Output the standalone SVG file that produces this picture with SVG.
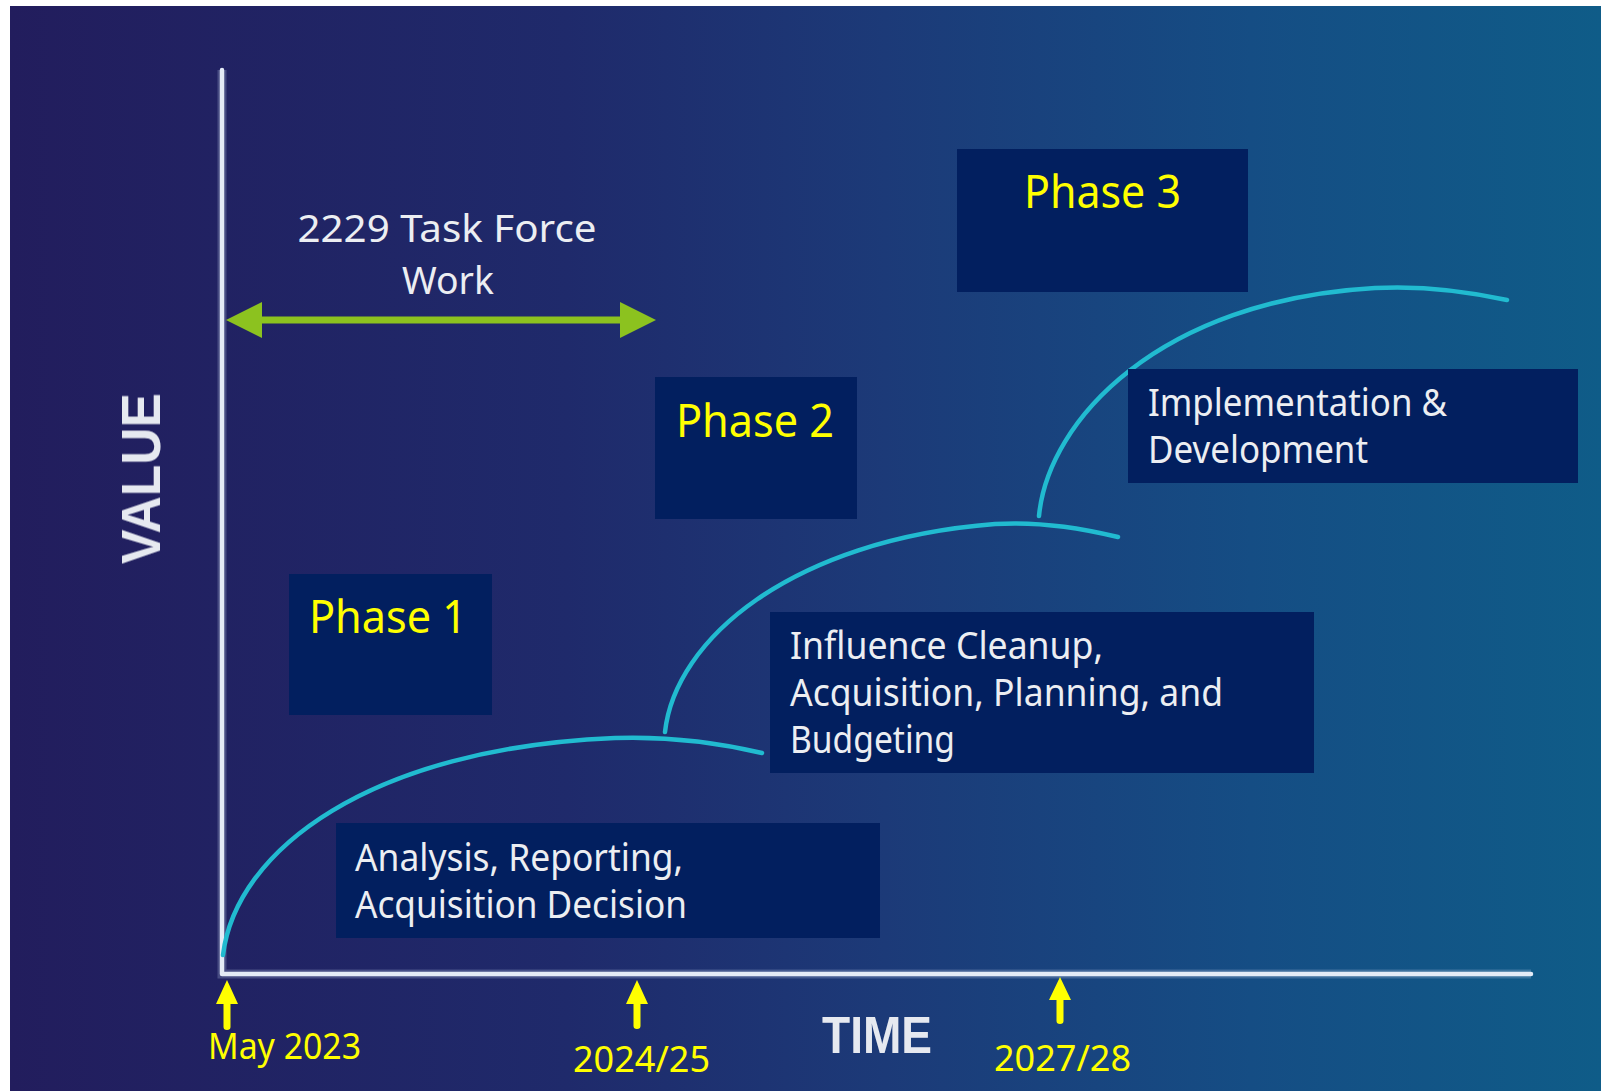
<svg xmlns="http://www.w3.org/2000/svg" width="1601" height="1091" viewBox="0 0 1601 1091">
  <defs>
    <linearGradient id="bg" x1="0" y1="0" x2="1" y2="0">
      <stop offset="0" stop-color="#221d5d"/>
      <stop offset="0.35" stop-color="#1f2a6b"/>
      <stop offset="0.55" stop-color="#1c3a78"/>
      <stop offset="0.78" stop-color="#154d84"/>
      <stop offset="1" stop-color="#0f5c88"/>
    </linearGradient>
    <filter id="soft" x="-5%" y="-5%" width="110%" height="110%">
      <feGaussianBlur stdDeviation="0.6"/>
    </filter>
    <marker id="greenHead" viewBox="0 0 36 36" refX="2" refY="18" markerWidth="36" markerHeight="36" markerUnits="userSpaceOnUse" orient="auto-start-reverse">
      <path d="M0,0 L36,18 L0,36 Z" fill="#8cc21f"/>
    </marker>
  </defs>
  <style>
    .box { fill: #021f5f; }
    .phase { font-family: "Noto Sans", "DejaVu Sans", sans-serif; font-size: 45px; fill: #ffff00; }
    .body { font-family: "Noto Sans", "DejaVu Sans", sans-serif; font-size: 38px; fill: #eceef2; }
    .date { font-family: "Noto Sans", "DejaVu Sans", sans-serif; font-size: 37px; fill: #ffff00; }
    .axisLabel { font-family: "Liberation Sans", Arial, sans-serif; font-weight: bold; fill: #e6e9f0; }
    .axis { stroke: #e4ebf6; stroke-width: 4.5; fill: none; stroke-linecap: round; stroke-linejoin: round; }
    .axisGlow { stroke: #b9c8e6; stroke-width: 9; fill: none; opacity: 0.25; }
    .curve { stroke: #21bbd0; stroke-width: 4.5; fill: none; stroke-linecap: round; }
    .tick { fill: #ffff00; }
  </style>

  <!-- background panel -->
  <rect x="0" y="0" width="1601" height="1091" fill="#ffffff"/>
  <rect x="10" y="6" width="1591" height="1085" fill="url(#bg)"/>

  <!-- axes -->
  <g id="axes">
    <path class="axisGlow" d="M222,70 V974 H1531" filter="url(#soft)"/>
    <path class="axis" d="M222,70 V974 H1531"/>
    <text class="axisLabel" font-size="56" transform="translate(160,478.5) rotate(-90)" text-anchor="middle" textLength="171" lengthAdjust="spacingAndGlyphs" filter="url(#soft)">VALUE</text>
    <text class="axisLabel" font-size="52" x="822" y="1053" textLength="110" lengthAdjust="spacingAndGlyphs" filter="url(#soft)">TIME</text>
  </g>

  <!-- growth curves -->
  <g id="connectors">
    <path class="curve" d="M223,955 C236,850 370,748 615,738 C675,736 728,745 762,753"/>
    <path class="curve" d="M665,732 C675,640 790,540 995,524 C1045,521 1088,530 1118,537"/>
    <path class="curve" d="M1039,516 C1048,420 1160,300 1375,288 C1430,285 1475,293 1507,300"/>
    <!-- task force span -->
    <line x1="260" y1="320" x2="622" y2="320" stroke="#8cc21f" stroke-width="7" marker-start="url(#greenHead)" marker-end="url(#greenHead)"/>
  </g>

  <!-- task force label -->
  <g id="task-force">
    <text class="body" font-size="41" x="447" y="242" text-anchor="middle" fill="#ffffff" textLength="299" lengthAdjust="spacingAndGlyphs">2229 Task Force</text>
    <text class="body" font-size="41" x="448" y="294" text-anchor="middle" fill="#ffffff" textLength="92" lengthAdjust="spacingAndGlyphs">Work</text>
  </g>

  <!-- phase headers -->
  <g id="phase-1">
    <rect class="box" x="289" y="574" width="203" height="141"/>
    <text class="phase" x="309" y="633" textLength="158" lengthAdjust="spacingAndGlyphs">Phase 1</text>
  </g>
  <g id="phase-2">
    <rect class="box" x="655" y="377" width="202" height="142"/>
    <text class="phase" x="676" y="437" textLength="158" lengthAdjust="spacingAndGlyphs">Phase 2</text>
  </g>
  <g id="phase-3">
    <rect class="box" x="957" y="149" width="291" height="143"/>
    <text class="phase" x="1024" y="208" textLength="157" lengthAdjust="spacingAndGlyphs">Phase 3</text>
  </g>

  <!-- phase descriptions -->
  <g id="analysis">
    <rect class="box" x="336" y="823" width="544" height="115"/>
    <text class="body" x="355" y="871" textLength="328" lengthAdjust="spacingAndGlyphs">Analysis, Reporting,</text>
    <text class="body" x="355" y="918" textLength="332" lengthAdjust="spacingAndGlyphs">Acquisition Decision</text>
  </g>
  <g id="influence">
    <rect class="box" x="770" y="612" width="544" height="161"/>
    <text class="body" x="790" y="659" textLength="313" lengthAdjust="spacingAndGlyphs">Influence Cleanup,</text>
    <text class="body" x="790" y="706" textLength="433" lengthAdjust="spacingAndGlyphs">Acquisition, Planning, and</text>
    <text class="body" x="790" y="753" textLength="165" lengthAdjust="spacingAndGlyphs">Budgeting</text>
  </g>
  <g id="implementation">
    <rect class="box" x="1128" y="369" width="450" height="114"/>
    <text class="body" x="1148" y="416" textLength="299" lengthAdjust="spacingAndGlyphs">Implementation &amp;</text>
    <text class="body" x="1148" y="463" textLength="220" lengthAdjust="spacingAndGlyphs">Development</text>
  </g>

  <!-- timeline markers -->
  <g id="marker-may-2023">
    <path class="tick" d="M227,980 L238,1004 L230.5,1004 L230.5,1027 Q230.5,1030 227,1030 Q223.5,1030 223.5,1027 L223.5,1004 L216,1004 Z"/>
    <text class="date" x="208" y="1059" textLength="153" lengthAdjust="spacingAndGlyphs">May 2023</text>
  </g>
  <g id="marker-2024">
    <path class="tick" d="M637,980 L648,1004 L640.5,1004 L640.5,1026 Q640.5,1029 637,1029 Q633.5,1029 633.5,1026 L633.5,1004 L626,1004 Z"/>
    <text class="date" x="573" y="1072" textLength="137" lengthAdjust="spacingAndGlyphs">2024/25</text>
  </g>
  <g id="marker-2027">
    <path class="tick" d="M1060,977 L1071,1000 L1063.5,1000 L1063.5,1021 Q1063.5,1024 1060,1024 Q1056.5,1024 1056.5,1021 L1056.5,1000 L1049,1000 Z"/>
    <text class="date" x="994" y="1071" textLength="137" lengthAdjust="spacingAndGlyphs">2027/28</text>
  </g>
</svg>
